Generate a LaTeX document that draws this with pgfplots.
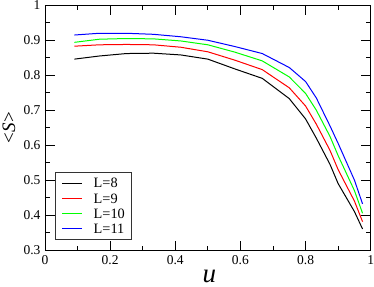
\documentclass[border=0pt]{standalone}
\usepackage{fontspec}
\setmainfont{Liberation Serif}
\usepackage{pgfplots}
\pgfplotsset{compat=1.18}
\begin{document}
\begin{tikzpicture}
\begin{axis}[
  scale only axis,
  width=325.7pt, height=244.7pt,
  xmin=0, xmax=1, ymin=0.3, ymax=1,
  xtick={0,0.2,0.4,0.6,0.8,1},
  xticklabels={0,0.2,0.4,0.6,0.8,1},
  ytick={0.3,0.4,0.5,0.6,0.7,0.8,0.9,1},
  yticklabels={0.3,0.4,0.5,0.6,0.7,0.8,0.9,1},
  minor x tick num=1, minor y tick num=1,
  tick align=inside, tick pos=both,
  major tick length=9.5pt, minor tick length=4.5pt,
  every tick/.style={black, line width=0.8pt},
  axis line style={black, line width=0.9pt},
  /pgf/number format/assume math mode=true,
  tick label style={font=\fontsize{13.5}{13.5}\selectfont},
  xticklabel style={yshift=-2pt},
  yticklabel style={xshift=-1pt},
  xlabel={\fontsize{27}{27}\selectfont\itshape u},
  xlabel style={at={(rel axis cs:0.505,0)}, anchor=base, yshift=-32pt, inner sep=0pt},
  ylabel={\fontsize{19}{19}\selectfont\textless\textit{S}\textgreater},
  ylabel style={at={(rel axis cs:0,0.5)}, anchor=center, yshift=36pt, inner sep=0pt},
  legend cell align=left,
  legend image code/.code={\draw[#1] (0pt,0pt) -- (20pt,0pt);},
  legend style={at={(0.0307,0.0409)}, anchor=south west, draw=black!80, line width=0.8pt,
    inner xsep=6.3pt, inner ysep=6pt, column sep=11pt, row sep=5.7pt,
    font=\fontsize{14.3}{14.3}\selectfont,
    nodes={inner sep=0pt, text height=9.5pt, text depth=0pt, line width=1pt}},
]
\coordinate (bl) at (rel axis cs:0,0);
\coordinate (tr) at (rel axis cs:1,1);
\addplot[black, line width=1pt] coordinates {
(0.09,0.846) (0.167,0.855) (0.25,0.862) (0.333,0.863) (0.417,0.858) (0.5,0.846)
(0.583,0.818) (0.667,0.791) (0.75,0.733) (0.8,0.675) (0.833,0.620) (0.875,0.545)
(0.9,0.490) (0.95,0.410) (0.975,0.360)};
\addlegendentry{L=8}
\addplot[red, line width=1pt] coordinates {
(0.09,0.883) (0.167,0.887) (0.25,0.888) (0.333,0.887) (0.417,0.880) (0.5,0.867)
(0.583,0.843) (0.667,0.816) (0.75,0.764) (0.8,0.712) (0.833,0.660) (0.875,0.585)
(0.9,0.530) (0.95,0.440) (0.975,0.381)};
\addlegendentry{L=9}
\addplot[green, line width=1pt] coordinates {
(0.09,0.894) (0.167,0.903) (0.25,0.905) (0.333,0.904) (0.417,0.898) (0.5,0.887)
(0.583,0.866) (0.667,0.841) (0.75,0.795) (0.8,0.748) (0.833,0.700) (0.875,0.625)
(0.9,0.570) (0.95,0.470) (0.975,0.405)};
\addlegendentry{L=10}
\addplot[blue, line width=1pt] coordinates {
(0.09,0.915) (0.167,0.920) (0.25,0.920) (0.333,0.917) (0.417,0.910) (0.5,0.900)
(0.583,0.882) (0.667,0.862) (0.75,0.822) (0.8,0.782) (0.833,0.735) (0.875,0.655)
(0.9,0.605) (0.95,0.500) (0.975,0.432)};
\addlegendentry{L=11}
\end{axis}
\pgfresetboundingbox
\path ([xshift=-45pt,yshift=-36pt]bl) rectangle ([xshift=3.3pt,yshift=5.3pt]tr);
\end{tikzpicture}
\end{document}
